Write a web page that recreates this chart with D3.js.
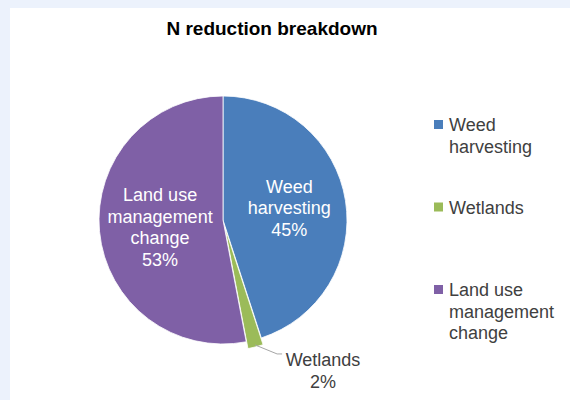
<!doctype html>
<html>
<head>
<meta charset="utf-8">
<script src="https://d3js.org/d3.v7.min.js"></script>
<style>
  body { margin: 0; background: #ecf2fc; }
  svg { display: block; font-family: Arial, "Liberation Sans", sans-serif; }
</style>
</head>
<body>
<svg width="570" height="400"></svg>
<script>
// chart data
var categories = ["Weed harvesting", "Wetlands", "Land use management change"];
var shares = [45, 2, 53];
var insideLabels = [["Weed", "harvesting"], ["Wetlands"], ["Land use", "management", "change"]];
var legendLines = [["Weed", "harvesting"], ["Wetlands"], ["Land use", "management", "change"]];
var colours = ["#4a7ebb", "#9bbb59", "#7f60a6"];

var svg = d3.select("svg");

// white chart panel over the pale frame
svg.append("rect")
   .attr("x", 10).attr("y", 8)
   .attr("width", 560).attr("height", 392)
   .attr("fill", "#ffffff");

svg.append("text")
   .attr("x", 272)
   .attr("y", 35)
   .attr("text-anchor", "middle")
   .attr("font-size", "19px")
   .attr("font-weight", "bold")
   .attr("fill", "#000")
   .text("N reduction breakdown");

var cx = 223, cy = 220, r = 124;
var g = svg.append("g").attr("transform", "translate(" + cx + "," + cy + ")");

var pie = d3.pie().sort(null).value(function(d) { return d; });
var arcs = pie(shares);
var arc = d3.arc().innerRadius(0).outerRadius(r);

var colour = d3.scaleOrdinal().domain(categories).range(colours);

// wetlands slice pulled out a little
function offset(d, i) {
  if (i !== 1) return "translate(0,0)";
  var a = (d.startAngle + d.endAngle) / 2;
  return "translate(" + (Math.sin(a) * 7) + "," + (-Math.cos(a) * 7) + ")";
}

g.selectAll("path.slice")
 .data(arcs)
 .enter().append("path")
 .attr("class", "slice")
 .attr("d", arc)
 .attr("transform", offset)
 .attr("fill", function(d, i) { return colour(categories[i]); })
 .attr("stroke", "#ffffff")
 .attr("stroke-width", 0.8);

// inside labels
var labelArc = d3.arc().innerRadius(r * 0.55).outerRadius(r * 0.55);
var lineH = 21.5;

[0, 2].forEach(function(i) {
  var c = labelArc.centroid(arcs[i]);
  var lines = insideLabels[i].concat([shares[i] + "%"]);
  var t = g.append("text")
           .attr("text-anchor", "middle")
           .attr("font-size", "18px")
           .attr("fill", "#ffffff");
  lines.forEach(function(s, k) {
    t.append("tspan")
     .attr("x", c[0] + (i === 0 ? -1 : 5))
     .attr("y", c[1] + (k - (lines.length - 1) / 2) * lineH + 6 + (i === 0 ? -1 : 1))
     .text(s);
  });
});

// wetlands outside label with leader line
var wa = (arcs[1].startAngle + arcs[1].endAngle) / 2;
var p0 = [Math.sin(wa) * (r + 5), -Math.cos(wa) * (r + 5)];
g.append("polyline")
 .attr("points", [p0, [p0[0] + 22, p0[1] + 9], [p0[0] + 27, p0[1] + 9]].map(function(p) { return p.join(","); }).join(" "))
 .attr("fill", "none")
 .attr("stroke", "#a6a6a6")
 .attr("stroke-width", 1);

var wt = g.append("text")
          .attr("text-anchor", "middle")
          .attr("font-size", "18px")
          .attr("fill", "#404040");
[insideLabels[1][0], shares[1] + "%"].forEach(function(s, k) {
  wt.append("tspan")
    .attr("x", 323 - cx)
    .attr("y", 366 - cy + k * lineH)
    .text(s);
});

// legend
var legendY = d3.scalePoint().domain(categories).range([131, 296]);
var leg = svg.append("g");
categories.forEach(function(name, i) {
  var y0 = legendY(name);
  leg.append("rect")
     .attr("x", 434).attr("y", y0 - 11)
     .attr("width", 9).attr("height", 9)
     .attr("fill", colour(name));
  var t = leg.append("text")
             .attr("font-size", "18px")
             .attr("fill", "#404040");
  legendLines[i].forEach(function(s, k) {
    t.append("tspan")
     .attr("x", 449)
     .attr("y", y0 + k * 21.5)
     .text(s);
  });
});
</script>
</body>
</html>
